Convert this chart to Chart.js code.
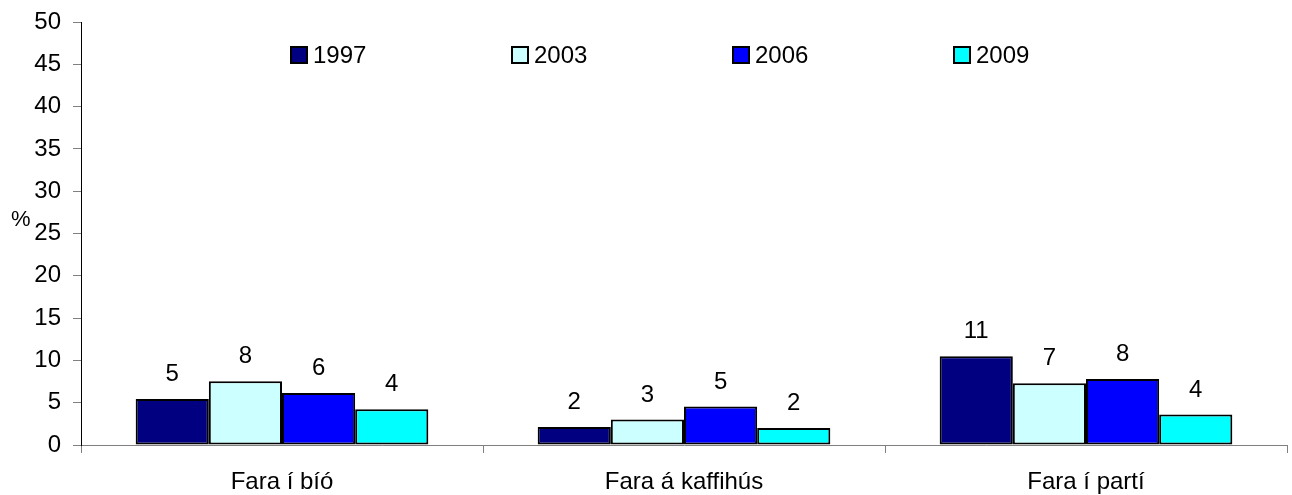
<!DOCTYPE html>
<html lang="is">
<head>
    <meta charset="UTF-8">
    <title>Fara í bíó / kaffihús / partí</title>
    <script src="https://cdnjs.cloudflare.com/ajax/libs/Chart.js/4.4.1/chart.umd.min.js"></script>
    <style>
        html, body { margin: 0; padding: 0; background: #fff; }
        .chart-container { position: relative; width: 1292px; height: 495px; }
    </style>
</head>
<body>
    <div class="chart-container">
        <canvas id="chart"></canvas>
    </div>

    <script>
        const categories = ['Fara í bíó', 'Fara á kaffihús', 'Fara í partí'];
        const years = ['1997', '2003', '2006', '2009'];
        const values1997 = [5.44, 2.13, 10.5];
        const values2003 = [7.53, 3.0, 7.3];
        const values2006 = [6.15, 4.55, 7.8];
        const values2009 = [4.22, 2.0, 3.6];
        const colors = ['#000080', '#CCFFFF', '#0000FF', '#00FFFF'];
        const yMin = 0, yMax = 50, yStep = 5;

        const FONT = '"Liberation Sans", Arial, sans-serif';

        // value labels above bars + legend inside the plot + "%" unit
        const extrasPlugin = {
            id: 'extras',
            afterDatasetsDraw(chart) {
                const ctx = chart.ctx;
                const area = chart.chartArea;
                ctx.save();
                ctx.fillStyle = '#000';
                ctx.font = '24px ' + FONT;
                ctx.textAlign = 'center';
                ctx.textBaseline = 'alphabetic';
                chart.data.datasets.forEach((ds, i) => {
                    chart.getDatasetMeta(i).data.forEach((bar, j) => {
                        ctx.fillText(String(Math.round(ds.data[j])), bar.x, bar.y - 18);
                    });
                });

                const ly = chart.scales.y.getPixelForValue(46.1);
                ctx.textAlign = 'left';
                ctx.textBaseline = 'middle';
                chart.data.datasets.forEach((ds, i) => {
                    const lx = area.left + 210 + i * 221;
                    ctx.fillStyle = ds.backgroundColor;
                    ctx.fillRect(lx, ly - 8, 16, 16);
                    ctx.lineWidth = 2;
                    ctx.strokeStyle = '#000';
                    ctx.strokeRect(lx, ly - 8, 16, 16);
                    ctx.fillStyle = '#000';
                    ctx.fillText(ds.label, lx + 22, ly + 1);
                });

                ctx.font = '22px ' + FONT;
                ctx.textAlign = 'left';
                ctx.fillText('%', 11, chart.scales.y.getPixelForValue(26.6));
                ctx.restore();
            }
        };

        const seriesValues = [values1997, values2003, values2006, values2009];

        new Chart(document.getElementById('chart').getContext('2d'), {
            type: 'bar',
            data: {
                labels: categories,
                datasets: years.map((y, i) => ({
                    label: y,
                    data: seriesValues[i],
                    backgroundColor: colors[i],
                    borderColor: '#000',
                    borderWidth: 2,
                    borderSkipped: false,
                    barPercentage: 1.0,
                    categoryPercentage: 0.728
                }))
            },
            options: {
                responsive: true,
                maintainAspectRatio: false,
                animation: false,
                layout: { padding: { top: 22, right: 5, left: 0, bottom: 0 } },
                plugins: {
                    legend: { display: false },
                    tooltip: { enabled: false }
                },
                scales: {
                    x: {
                        offset: true,
                        afterFit(scale) { scale.height = 50; },
                        grid: {
                            offset: true,
                            drawOnChartArea: false,
                            drawTicks: true,
                            tickLength: 8,
                            color: '#808080'
                        },
                        border: { color: '#808080', width: 1 },
                        ticks: {
                            color: '#000',
                            padding: 15,
                            font: { family: FONT, size: 24 }
                        }
                    },
                    y: {
                        min: yMin,
                        max: yMax,
                        afterFit(scale) {
                            scale.width = 81;
                            scale.paddingTop = 0;
                            scale.paddingBottom = 0;
                        },
                        grid: {
                            drawOnChartArea: false,
                            drawTicks: true,
                            tickLength: 8,
                            color: '#808080'
                        },
                        border: { color: '#000', width: 1 },
                        ticks: {
                            stepSize: yStep,
                            color: '#000',
                            padding: 12,
                            font: { family: FONT, size: 24 }
                        }
                    }
                }
            },
            plugins: [extrasPlugin]
        });
    </script>
</body>
</html>
